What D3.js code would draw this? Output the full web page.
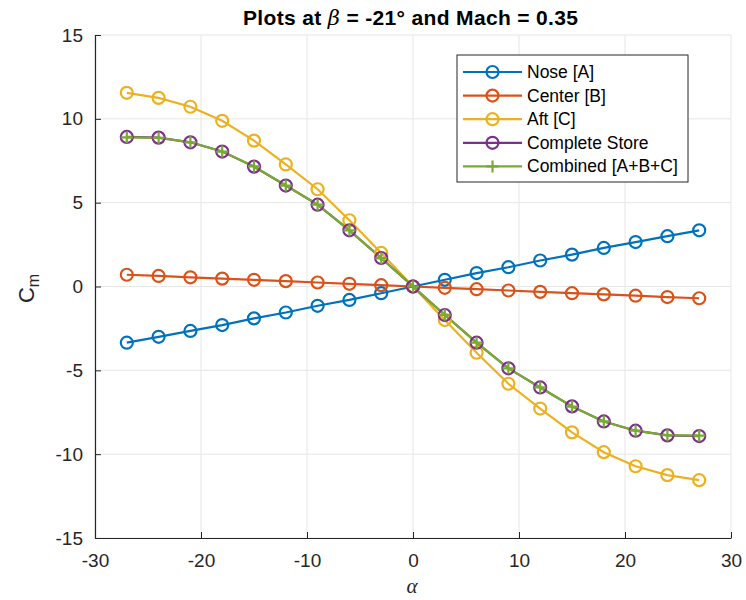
<!DOCTYPE html>
<html><head><meta charset="utf-8">
<script src="https://cdn.jsdelivr.net/npm/d3@7"></script>
<style>body{margin:0;background:#fff}</style>
</head><body>
<svg id="c" width="746" height="600"></svg>
<script>
const alpha = [-27,-24,-21,-18,-15,-12,-9,-6,-3,0,3,6,9,12,15,18,21,24,27];
const nose = [-3.35,-3.0,-2.65,-2.3,-1.9,-1.55,-1.15,-0.8,-0.4,0,0.4,0.8,1.15,1.55,1.9,2.3,2.65,3.0,3.35];
const center = [0.7,0.63,0.55,0.47,0.4,0.32,0.24,0.16,0.08,0,-0.08,-0.16,-0.24,-0.32,-0.4,-0.47,-0.55,-0.63,-0.7];
const aft = [11.55,11.25,10.72,9.88,8.7,7.28,5.8,3.95,2.0,0,-2.0,-3.95,-5.8,-7.28,-8.7,-9.88,-10.72,-11.25,-11.55];
const complete = [8.92,8.88,8.6,8.05,7.15,6.02,4.88,3.35,1.7,0,-1.7,-3.35,-4.88,-6.02,-7.15,-8.05,-8.6,-8.88,-8.92];
const combined = [8.9,8.87,8.6,8.05,7.16,6.02,4.88,3.35,1.69,0,-1.69,-3.35,-4.88,-6.02,-7.16,-8.05,-8.6,-8.87,-8.9];
const seriesNames = ["Nose [A]","Center [B]","Aft [C]","Complete Store","Combined [A+B+C]"];
const xTicks = [-30,-20,-10,0,10,20,30];
const yTicks = [-15,-10,-5,0,5,10,15];

const colors = ["#0072BD","#D95319","#EDB120","#7E2F8E","#77AC30"];
const markers = ["o","o","o","o","+"];
const seriesVals = [nose, center, aft, complete, combined];

const svg = d3.select("#c");
const L=95, R=731, T=35, B=538;
const x = d3.scaleLinear().domain([-30,30]).range([L,R]);
const y = d3.scaleLinear().domain([-15,15]).range([B,T]);
const font = "'Liberation Sans', Arial, Helvetica, sans-serif";
const fmt = d => String(d);

// grid
const g = svg.append("g");
g.selectAll(".gx").data(xTicks).join("line")
  .attr("x1",d=>x(d)).attr("x2",d=>x(d)).attr("y1",T).attr("y2",B)
  .attr("stroke","#e6e6e6").attr("stroke-width",1);
g.selectAll(".gy").data(yTicks).join("line")
  .attr("y1",d=>y(d)).attr("y2",d=>y(d)).attr("x1",L).attr("x2",R)
  .attr("stroke","#e6e6e6").attr("stroke-width",1);

// axes
const xAxis = d3.axisBottom(x).tickValues(xTicks).tickFormat(fmt).tickSizeInner(-6).tickSizeOuter(0).tickPadding(16);
const yAxis = d3.axisLeft(y).tickValues(yTicks).tickFormat(fmt).tickSizeInner(-6).tickSizeOuter(0).tickPadding(12);
const gx = svg.append("g").attr("transform",`translate(0,${B})`).call(xAxis);
const gy = svg.append("g").attr("transform",`translate(${L},0)`).call(yAxis);
[gx,gy].forEach(a=>{
  a.selectAll("path").attr("stroke","#262626").attr("stroke-width",1.2);
  a.selectAll("line").attr("stroke","#262626");
  a.selectAll("text").attr("fill","#262626").style("font-family",font).style("font-size","19px");
});

// lines
const line = d3.line().x((d,i)=>x(alpha[i])).y(d=>y(d));
seriesVals.forEach((vals,k)=>{
  svg.append("path").datum(vals).attr("d",line)
    .attr("fill","none").attr("stroke",colors[k]).attr("stroke-width",2.2);
});
// markers
seriesVals.forEach((vals,k)=>{
  const mg = svg.append("g");
  if(markers[k]==="o"){
    mg.selectAll("circle").data(vals).join("circle")
      .attr("cx",(d,i)=>x(alpha[i])).attr("cy",d=>y(d)).attr("r",6)
      .attr("fill","none").attr("stroke",colors[k]).attr("stroke-width",2.2);
  } else {
    mg.selectAll("path").data(vals).join("path")
      .attr("d",(d,i)=>{const cx=x(alpha[i]),cy=y(d),s=6;return `M${cx-s},${cy}H${cx+s}M${cx},${cy-s}V${cy+s}`;})
      .attr("stroke",colors[k]).attr("stroke-width",2.2);
  }
});

// title
const title = svg.append("text").attr("x",410.5).attr("y",25).attr("text-anchor","middle")
  .attr("textLength",335).attr("lengthAdjust","spacing")
  .style("font-family",font).style("font-size","21px").style("font-weight","bold").attr("fill","#000");
title.append("tspan").text("Plots at ");
title.append("tspan").text("β").style("font-family","'DejaVu Serif', 'Liberation Serif', serif").style("font-style","italic").style("font-weight","normal");
title.append("tspan").text(" = -21° and Mach = 0.35");

// axis labels
svg.append("text").attr("x",412).attr("y",593).attr("text-anchor","middle")
  .style("font-family","'Liberation Serif', 'DejaVu Serif', serif").style("font-style","italic").style("font-size","21px").attr("fill","#262626").text("α");
const yl = svg.append("text").attr("transform",`translate(34,${y(0)+2}) rotate(-90)`).attr("text-anchor","middle")
  .style("font-family",font).style("font-size","22px").attr("fill","#262626");
yl.append("tspan").text("C");
yl.append("tspan").text("m").attr("dy",5).style("font-size","16px");

// legend
const lx=457, ly=55, lw=231, lh=127;
svg.append("rect").attr("x",lx).attr("y",ly).attr("width",lw).attr("height",lh)
  .attr("fill","#fff").attr("stroke","#262626").attr("stroke-width",1);
seriesNames.forEach((n,k)=>{
  const yy = ly+17+k*23.6;
  svg.append("line").attr("x1",lx+6).attr("x2",lx+65).attr("y1",yy).attr("y2",yy)
    .attr("stroke",colors[k]).attr("stroke-width",2.2);
  const cx = lx+35.5;
  if(markers[k]==="o"){
    svg.append("circle").attr("cx",cx).attr("cy",yy).attr("r",6).attr("fill","none")
      .attr("stroke",colors[k]).attr("stroke-width",2.2);
  } else {
    svg.append("path").attr("d",`M${cx-6},${yy}H${cx+6}M${cx},${yy-6}V${yy+6}`)
      .attr("stroke",colors[k]).attr("stroke-width",2.2);
  }
  svg.append("text").attr("x",lx+70).attr("y",yy+6).style("font-family",font).style("font-size","17.5px")
    .attr("fill","#000").text(n);
});
</script>
</body></html>
